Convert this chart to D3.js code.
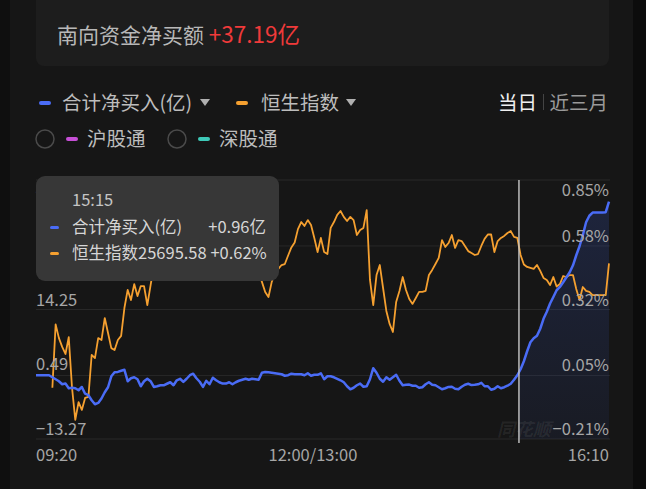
<!DOCTYPE html>
<html><head><meta charset="utf-8">
<script src="https://cdn.jsdelivr.net/npm/d3@7"></script>
<style>
html,body{margin:0;padding:0;background:#161616;}
svg{display:block;font-family:"Noto Sans CJK SC","Noto Sans",Roboto,sans-serif;}
</style></head>
<body>
<svg id="c" width="646" height="489"></svg>
<script>
// ---- data ----
const titleText = "南向资金净买额";
const titleValue = "+37.19亿";
const legendMain = ["合计净买入(亿)", "恒生指数"];
const legendSub = ["沪股通", "深股通"];
const periodTabs = ["当日", "近三月"];
// trading-minute index from 09:20 (12:00 and 13:00 share one point), 2-min step
const stepMin = 2;
const netBuy = [ // 合计净买入(亿), t = 0..350
  0.28,0.28,0.28,0.28,0.28, -0.15,-0.57,-1.0,-1.64,-1.49,
  -2.49,-2.38,-2.49,-2.91,-2.21, -3.65,-3.97,-5.04,-5.89,-5.61,
  -4.67,-3.34,-2.27,0.06,0.92, 0.98,1.23,1.45,-0.99,-0.36,
  -0.15,-0.57,-2.06,-0.99,-0.47, -0.99,-2.21,-2.06,-1.85,-1.85,
  -1.53,-1.21,-1.85,-0.79,-0.47, -1.15,-0.47,0.28,0.6,-0.36,
  -1.1,-2.21,-0.89,-1.64,-0.25, -0.79,-1.21,-1.49,-1.49,-1.21,
  -1.64,-1.21,-0.89,-0.68,-0.47, -0.68,-0.47,-0.57,-0.68,0.81,
  0.98,0.92,0.81,0.7,0.6, 0.49,0.17,0.28,0.6,0.49,
  0.49,0.49,0.28,0.7,0.17, 0.38,0.38,0.7,-0.57,0.06,
  0.06,-0.15,-0.47,-0.79,-1.21, -2.06,-2.7,-2.38,-1.85,-1.49,
  -2.17,-2.06,-0.57,1.77,0.81, -0.47,-1.1,-0.15,-0.68,-0.15,
  0.38,-0.89,-1.85,-1.74,-1.7, -1.95,-1.95,-2.38,-2.27,-1.64,
  -1.21,-1.74,-1.85,-2.27,-2.7, -2.49,-2.21,-2.17,-2.59,-2.7,
  -2.17,-1.74,-1.53,-1.81,-1.74, -1.64,-1.32,-2.06,-2.06,-2.8,
  -2.59,-2.06,-2.49,-2.27,-1.95, -1.53,-0.68,0.28,1.55,3.25,
  5.38,7.29,8.14,8.67,10.16, 12.28,13.77,15.51,16.92,18.34,
  19.04,20.04,21.1,22.17,23.65, 25.78,27.69,30.03,32.79,34.17,
  34.85,34.85,34.85,34.85,34.92, 37.19
];
const hsiStart = 10; // 09:30
const hsiPct = [ // 恒生指数 change %, t = 10..350
  0.0,0.259,0.203,0.167,0.138, 0.207,0.0,-0.132,-0.059,-0.091,
  -0.042,-0.038,0.134,0.121,0.203, 0.195,0.285,0.224,0.162,0.154,
  0.195,0.212,0.326,0.40,0.359, 0.424,0.375,0.416,0.416,0.338,
  0.42,0.50,0.55,0.52,0.60, 0.63,0.58,0.66,0.70,0.64,
  0.68,0.72,0.66,0.62,0.67, 0.64,0.60,0.63,0.58,0.61,
  0.56,0.59,0.54,0.57,0.52, 0.55,0.50,0.53,0.49,0.51,
  0.47,0.50,0.46,0.48,0.433, 0.392,0.371,0.433,0.473,0.486,
  0.502,0.506,0.541,0.574,0.594, 0.649,0.678,0.662,0.686,0.666,
  0.613,0.555,0.613,0.555,0.547, 0.654,0.678,0.707,0.723,0.699,
  0.682,0.699,0.686,0.625,0.645, 0.654,0.727,0.441,0.338,0.461,
  0.502,0.408,0.314,0.261,0.228, 0.351,0.396,0.453,0.40,0.363,
  0.343,0.367,0.392,0.392,0.396, 0.461,0.482,0.506,0.531,0.604,
  0.576,0.592,0.625,0.572,0.604, 0.60,0.58,0.559,0.551,0.543,
  0.547,0.58,0.609,0.627,0.627, 0.555,0.60,0.613,0.621,0.633,
  0.641,0.617,0.613,0.543,0.504, 0.494,0.49,0.486,0.502,0.478,
  0.449,0.441,0.42,0.453,0.414, 0.424,0.457,0.453,0.461,0.461,
  0.404,0.359,0.412,0.396,0.392, 0.379,0.379,0.379,0.379,0.379,
  0.509
];
const leftTicks = [-13.27, 0.49, 14.25, 28.01, 41.77];
const rightTicks = [-0.21, 0.05, 0.32, 0.58, 0.85];
const xTickMinutes = [0, 160, 350];
const xTickLabels = ["09:20", "12:00/13:00", "16:10"];
const crossMinute = 295;
const tipTime = "15:15";
const tipRows = [["合计净买入(亿)", "+0.96亿"], ["恒生指数25695.58 +0.62%", ""]];
const watermark = "同花顺";

// ---- drawing ----
const svg = d3.select("#c");
const W = 646, H = 489;
const C = {bg:"#161616", blue:"#4a6cf6", orange:"#f5a030", grid:"#282828", axis:"#a6a6a6",
           purple:"#c64fd6", teal:"#3ec9b8"};
svg.append("rect").attr("width",W).attr("height",H).attr("fill",C.bg);
svg.append("rect").attr("x",0).attr("width",10).attr("height",H).attr("fill","#0f0f0f");
svg.append("rect").attr("x",633).attr("width",13).attr("height",H).attr("fill","#0c0c0c");

// title card
svg.append("rect").attr("x",36).attr("y",-10).attr("width",573).attr("height",76).attr("rx",8).attr("fill","#1d1d1d");
const tt = svg.append("text").attr("x",57).attr("y",43);
tt.append("tspan").attr("fill","#b8b8b8").attr("font-size",21).text(titleText + " ");
tt.append("tspan").attr("fill","#f03a3a").attr("font-size",22.5).text(titleValue);

// legend row 1
const lg = svg.append("g").attr("font-size",19.5).attr("fill","#bdbdbd");
function dash(g, x, y, color){ g.append("rect").attr("x",x).attr("y",y-2).attr("width",12).attr("height",4).attr("rx",2).attr("fill",color); }
function tri(g, x, y){ g.append("path").attr("d",`M${x},${y-4}L${x+10},${y-4}L${x+5},${y+3}Z`).attr("fill","#b0b0b0"); }
dash(lg, 39, 103, C.blue);
lg.append("text").attr("x",62).attr("y",110).text(legendMain[0]);
tri(lg, 200, 103);
dash(lg, 236, 103, C.orange);
lg.append("text").attr("x",261).attr("y",110).text(legendMain[1]);
tri(lg, 346, 103);
lg.append("text").attr("x",498).attr("y",110).attr("fill","#f0f0f0").text(periodTabs[0]);
lg.append("rect").attr("x",543).attr("y",94).attr("width",1).attr("height",16).attr("fill","#444");
lg.append("text").attr("x",608).attr("y",110).attr("text-anchor","end").attr("fill","#9a9a9a").text(periodTabs[1]);
// legend row 2
const lg2 = svg.append("g").attr("font-size",19.5).attr("fill","#bdbdbd");
[[45, C.purple, 66, 87],[177, C.teal, 198, 219]].forEach((p,i)=>{
  lg2.append("circle").attr("cx",p[0]).attr("cy",139).attr("r",9).attr("fill","none").attr("stroke","#4a4a4a").attr("stroke-width",1.5);
  dash(lg2, p[2], 139, p[1]);
  lg2.append("text").attr("x",p[3]).attr("y",146).text(legendSub[i]);
});

// scales
const x = d3.scaleLinear().domain([0,350]).range([36,609]);
const yL = d3.scaleLinear().domain([-13.27,41.77]).range([439,180]);
const yR = d3.scaleLinear().domain([-0.21,0.85]).range([439,180]);

// grid
svg.append("g").selectAll("line").data(rightTicks).join("line")
  .attr("x1",36).attr("x2",610).attr("y1",d=>yR(d)).attr("y2",d=>yR(d))
  .attr("stroke",C.grid).attr("stroke-width",1);

// area under net buy after crosshair
const blueData = netBuy.map((v,i)=>({t:i*stepMin, v}));
const defs = svg.append("defs");
const grad = defs.append("linearGradient").attr("id","ga").attr("x1",0).attr("y1",0).attr("x2",0).attr("y2",1);
grad.append("stop").attr("offset","0%").attr("stop-color","#3d5fd8").attr("stop-opacity",0.2);
grad.append("stop").attr("offset","100%").attr("stop-color","#3d5fd8").attr("stop-opacity",0.07);
defs.append("clipPath").attr("id","cp").append("rect")
  .attr("x",x(crossMinute)).attr("y",170).attr("width",x(350)-x(crossMinute)).attr("height",280);
svg.append("path").datum(blueData).attr("clip-path","url(#cp)")
  .attr("d", d3.area().x(d=>x(d.t)).y0(yL(-13.27)).y1(d=>yL(d.v)))
  .attr("fill","url(#ga)");

// lines
const hsiData = hsiPct.map((v,i)=>({t:hsiStart + i*stepMin, v}));
svg.append("path").datum(hsiData)
  .attr("d", d3.line().x(d=>x(d.t)).y(d=>yR(d.v)))
  .attr("fill","none").attr("stroke",C.orange).attr("stroke-width",1.8).attr("stroke-linejoin","round");
svg.append("path").datum(blueData)
  .attr("d", d3.line().x(d=>x(d.t)).y(d=>yL(d.v)))
  .attr("fill","none").attr("stroke",C.blue).attr("stroke-width",2.5).attr("stroke-linejoin","round");

// watermark
svg.append("text").attr("x",497).attr("y",436).attr("font-size",18).attr("font-weight","bold").attr("font-style","italic")
  .attr("fill","#ffffff").attr("fill-opacity",0.07).text(watermark);

// crosshair
svg.append("line").attr("x1",x(crossMinute)).attr("x2",x(crossMinute)).attr("y1",yR(0.85)).attr("y2",yR(-0.21)+4)
  .attr("stroke","#c8c8c8").attr("stroke-width",1.4);

// axis labels
const axF = 16.5;
const gl = svg.append("g").attr("font-size",axF).attr("fill",C.axis);
gl.selectAll("text").data(leftTicks).join("text")
  .attr("x",36).attr("y",(d,i)=> i===leftTicks.length-1 ? yL(d)+16 : yL(d)-4).text(d=>d3.format(".2f")(d).replace("-","−"));
const gr = svg.append("g").attr("font-size",axF).attr("fill",C.axis).attr("text-anchor","end");
gr.selectAll("text").data(rightTicks).join("text")
  .attr("x",609).attr("y",(d,i)=> i===rightTicks.length-1 ? yR(d)+16 : yR(d)-4)
  .text(d=>d3.format(".2f")(d).replace("-","−")+"%");
const gx = svg.append("g").attr("font-size",axF).attr("fill",C.axis);
gx.selectAll("text").data(xTickMinutes).join("text")
  .attr("x",(d,i)=> x(d) + (i===1?15:0))
  .attr("y",461)
  .attr("text-anchor",(d,i)=> i===0?"start":(i===1?"middle":"end"))
  .text((d,i)=>xTickLabels[i]);

// tooltip
const tip = svg.append("g");
tip.append("rect").attr("x",36).attr("y",176).attr("width",243).attr("height",105).attr("rx",9).attr("fill","#373737");
tip.append("text").attr("x",72).attr("y",206).attr("font-size",16.5).attr("fill","#c4c4c4").text(tipTime);
[[C.blue,233],[C.orange,259]].forEach((r,i)=>{
  tip.append("rect").attr("x",50).attr("y",r[1]-7).attr("width",9).attr("height",3).attr("rx",1.5).attr("fill",r[0]);
  tip.append("text").attr("x",72).attr("y",r[1]).attr("font-size",16.5).attr("fill","#d6d6d6").text(tipRows[i][0]);
  if (tipRows[i][1]) tip.append("text").attr("x",266).attr("y",r[1]).attr("text-anchor","end").attr("font-size",16.5).attr("fill","#d6d6d6").text(tipRows[i][1]);
});
</script>
</body></html>
